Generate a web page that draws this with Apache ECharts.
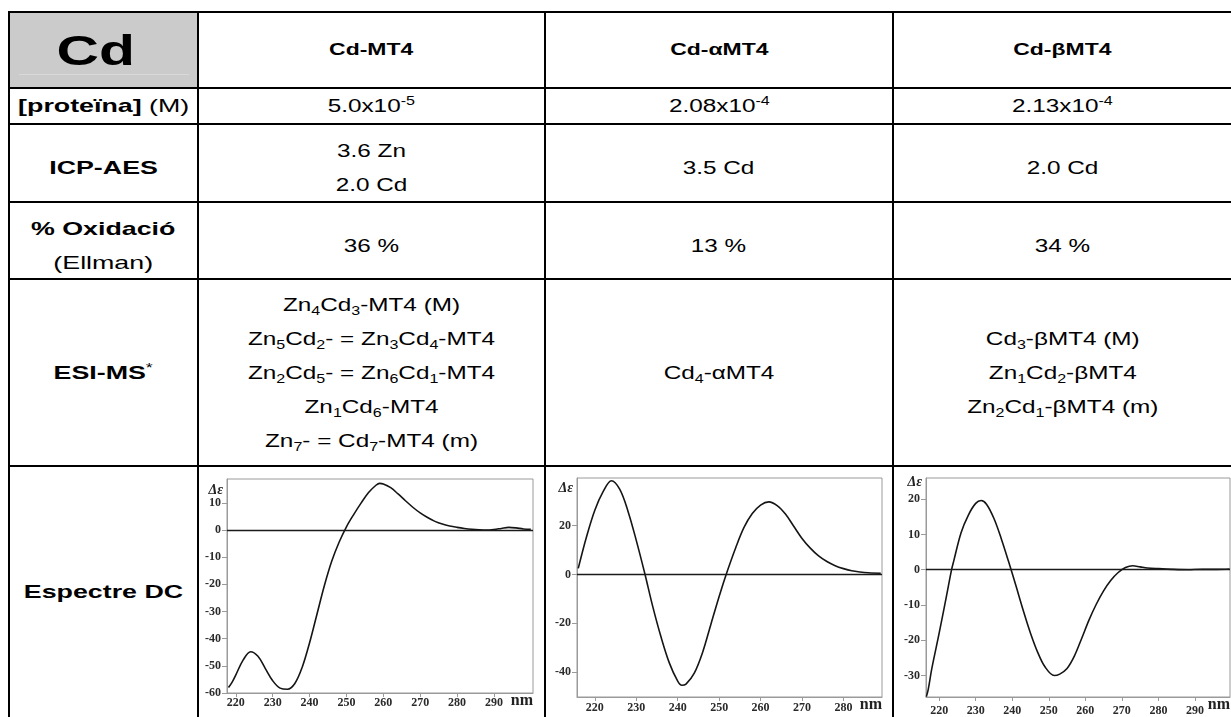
<!DOCTYPE html>
<html><head><meta charset="utf-8">
<script src="https://cdn.jsdelivr.net/npm/echarts@6/dist/echarts.min.js"></script>
<style>
html,body{margin:0;padding:0;background:#fff;width:1231px;height:717px;overflow:hidden;}
#sheet{position:absolute;left:0;top:0;width:1231px;height:717px;font-family:"Liberation Sans",Arial,sans-serif;color:#000;}
.cell{position:absolute;display:flex;align-items:center;justify-content:center;text-align:center;box-sizing:border-box;}
.txt{display:inline-block;transform-origin:50% 50%;white-space:nowrap;line-height:34px;}
.hl{position:absolute;background:#000;height:2px;}
.vl{position:absolute;background:#000;width:2px;}
sub{font-size:66%;vertical-align:-0.3em;line-height:0;}
sup{font-size:66%;vertical-align:0.55em;line-height:0;}
#chart{position:absolute;left:0;top:0;width:1231px;height:717px;}
</style></head>
<body>
<div id="sheet"></div>
<div id="chart"></div>
<script>
// ---- table content ----
const cornerLabel = 'Cd';
const proteinNames = ['Cd-MT4', 'Cd-αMT4', 'Cd-βMT4'];
const rowLabels = [
  '<b>[proteïna]</b> (M)',
  '<b>ICP-AES</b>',
  '<b>% Oxidació</b><br>(Ellman)',
  '<b>ESI-MS</b><sup>*</sup>',
  '<b>Espectre DC</b>'
];
const concentrations = ['5.0x10<sup>-5</sup>', '2.08x10<sup>-4</sup>', '2.13x10<sup>-4</sup>'];
const icpAes = ['3.6 Zn<br>2.0 Cd', '3.5 Cd', '2.0 Cd'];
const oxidation = ['36 %', '13 %', '34 %'];
const esiMs = [
  'Zn<sub>4</sub>Cd<sub>3</sub>-MT4 (M)<br>Zn<sub>5</sub>Cd<sub>2</sub>- = Zn<sub>3</sub>Cd<sub>4</sub>-MT4<br>Zn<sub>2</sub>Cd<sub>5</sub>- = Zn<sub>6</sub>Cd<sub>1</sub>-MT4<br>Zn<sub>1</sub>Cd<sub>6</sub>-MT4<br>Zn<sub>7</sub>- = Cd<sub>7</sub>-MT4 (m)',
  'Cd<sub>4</sub>-αMT4',
  'Cd<sub>3</sub>-βMT4 (M)<br>Zn<sub>1</sub>Cd<sub>2</sub>-βMT4<br>Zn<sub>2</sub>Cd<sub>1</sub>-βMT4 (m)'
];

// ---- CD spectra (wavelength nm, Δε) ----
const wlMT4 = [218,219,220,222,224,226,228,230,232,234,236,238,240,242,244,246,248,250,252,254,256,258,259,260,262,264,266,268,270,272,274,276,278,280,282,284,286,288,290,292,294,296,298,300];
const deMT4 = [-58,-56,-53.3,-47.8,-44.8,-46.5,-51,-55.5,-58.2,-58.6,-56.5,-50.5,-41.5,-31,-20.5,-11.5,-4.5,1.2,5.8,10,13.8,16.5,17.2,17,15.6,13.3,10.8,8.4,6.3,4.6,3.2,2.2,1.5,1,0.6,0.3,0.1,0,0.2,0.6,1,0.8,0.4,0.3];

const wlAlpha = [216,218,220,222,224,226,228,230,232,234,236,238,240,241,242,244,246,248,250,252,254,256,258,260,262,264,266,268,270,272,274,276,278,280,282,284,286,289];
const deAlpha = [2.5,15.5,26.4,34,38.5,35,26,14,0.8,-13.3,-25.8,-36.4,-43.8,-45.5,-45,-40.5,-32,-20.5,-9,1.5,11,19.3,25,28.5,29.8,28.3,24.8,19.8,14.8,10.8,7.6,5.3,3.6,2.4,1.5,1,0.7,0.5];

const wlBeta = [216.5,217,218,220,222,223.4,224,226,228,230,231.5,233,235,237,239,241,243,245,247,249,251.5,253,255,257,259,261,263,265,267,269,271,273,275,277,280,284,288,292,296,299.5];
const deBeta = [-36,-34,-28,-18,-7.5,0,2.5,10.5,15.5,18.8,19.6,18.5,14.5,8.8,2.3,-4.5,-11.5,-18,-23.5,-27.6,-30,-29.6,-28,-24.5,-19.5,-14.3,-9.8,-6,-3,-0.8,0.6,1.1,0.8,0.5,0.3,0.1,0,0.1,0.1,0.2];

const xTicks9 = [220,230,240,250,260,270,280,290];
const xTicks8 = [220,230,240,250,260,270,280];
const yTicksMT4 = [-60,-50,-40,-30,-20,-10,0,10];
const yTicksAlpha = [-40,-20,0,20];
const yTicksBeta = [-30,-20,-10,0,10,20];

// ---- table layout ----
const colX = [9, 198, 545, 893, 1232];
const rowY = [12, 88, 124, 202, 279, 466, 717];
const sheet = document.getElementById('sheet');

function add(cls, css, html) {
  const d = document.createElement('div');
  d.className = cls;
  Object.assign(d.style, css);
  if (html !== undefined) d.innerHTML = html;
  sheet.appendChild(d);
  return d;
}
function cell(c, r, html, fontSize, bold, stretch, padTop, shiftX) {
  const d = add('cell', {
    left: colX[c] + 'px', top: rowY[r] + 'px',
    width: (colX[c + 1] - colX[c]) + 'px', height: (rowY[r + 1] - rowY[r]) + 'px',
    paddingTop: (padTop || 0) + 'px'
  });
  const s = document.createElement('span');
  s.className = 'txt';
  s.style.fontSize = fontSize + 'px';
  s.style.transform = 'translateX(' + (shiftX || 0) + 'px) scaleX(' + stretch + ')';
  if (bold) s.style.fontWeight = 'bold';
  s.innerHTML = html;
  d.appendChild(s);
}

// grey corner cell
add('', {position: 'absolute', left: (colX[0] + 1) + 'px', top: (rowY[0] + 1) + 'px',
  width: (colX[1] - colX[0] - 2) + 'px', height: (rowY[1] - rowY[0] - 2) + 'px', background: '#cbcbcb'});
add('', {position: 'absolute', left: '19px', top: '74px', width: '170px', height: '1px', background: '#d9d9d9'});

cell(0, 0, cornerLabel, 43, true, 1.37, 0, -8);
proteinNames.forEach((t, i) => cell(i + 1, 0, t, 17, true, 1.35));
rowLabels.forEach((t, i) => cell(0, i + 1, t, 19, false, 1.41, (i === 1 || i === 2) ? 10 : 0));
concentrations.forEach((t, i) => cell(i + 1, 1, t, 18, false, 1.35));
icpAes.forEach((t, i) => cell(i + 1, 2, t, 18, false, 1.35, 10));
oxidation.forEach((t, i) => cell(i + 1, 3, t, 18, false, 1.35, 10));
esiMs.forEach((t, i) => cell(i + 1, 4, t, 18, false, 1.35));

// grid lines
for (let r = 0; r < rowY.length - 1; r++) {
  add('hl', {left: (colX[0] - 1) + 'px', top: (rowY[r] - 1) + 'px', width: (colX[colX.length - 1] - colX[0] + 2) + 'px'});
}
colX.forEach(x => add('vl', {left: (x - 1) + 'px', top: (rowY[0] - 1) + 'px', height: (740 - rowY[0]) + 'px'}));

// ---- spectra ----
const chart = echarts.init(document.getElementById('chart'), null, {renderer: 'canvas'});
const panels = [
  {wl: wlMT4, de: deMT4, xt: xTicks9, yt: yTicksMT4, x: [217.6, 300.6], y: [-60, 18.8],
   grid: {left: 227, top: 479, width: 306, height: 214}, labelGap: 4, nameGap: -4},
  {wl: wlAlpha, de: deAlpha, xt: xTicks8, yt: yTicksAlpha, x: [215.7, 289.3], y: [-50.3, 39.6],
   grid: {left: 577, top: 478, width: 305, height: 219}, labelGap: 5, nameGap: -3},
  {wl: wlBeta, de: deBeta, xt: xTicks9, yt: yTicksBeta, x: [216.4, 299.6], y: [-36.1, 26],
   grid: {left: 926, top: 478, width: 304, height: 222}, labelGap: 8, nameGap: 3}
];
const frame = '#9a9a9a';
const serif = '"Liberation Serif","Times New Roman",serif';
const tickFont = {color: '#2a2a2a', fontFamily: serif, fontWeight: 'bold', fontSize: 12};

const option = {
  animation: false,
  grid: panels.map(p => Object.assign({show: true, borderColor: frame, borderWidth: 1, backgroundColor: 'transparent'}, p.grid)),
  xAxis: panels.map((p, i) => ({
    type: 'value', gridIndex: i, min: p.x[0], max: p.x[1],
    name: 'nm', nameLocation: 'end', nameGap: 0, nameMoveOverlap: false,
    nameTextStyle: {align: 'right', verticalAlign: 'top', padding: 0, fontSize: 16,
      fontFamily: serif, fontWeight: 'bold', color: '#222'},
    axisLine: {onZero: false, lineStyle: {color: frame, width: 1}},
    axisTick: {show: true, customValues: p.xt, length: 4, lineStyle: {color: frame}},
    axisLabel: Object.assign({customValues: p.xt, margin: p.labelGap}, tickFont),
    splitLine: {show: false}
  })),
  yAxis: panels.map((p, i) => ({
    type: 'value', gridIndex: i, min: p.y[0], max: p.y[1],
    name: 'Δε', nameLocation: 'end', nameGap: p.nameGap, nameMoveOverlap: false,
    nameTextStyle: {align: 'right', verticalAlign: 'top', padding: [0, 4, 0, 0], fontSize: 14,
      fontFamily: serif, fontWeight: 'bold', fontStyle: 'italic', color: '#222'},
    axisLine: {show: true, onZero: false, lineStyle: {color: frame, width: 1}},
    axisTick: {show: true, customValues: p.yt, length: 5, lineStyle: {color: frame}},
    axisLabel: Object.assign({customValues: p.yt, margin: 6}, tickFont),
    splitLine: {show: false}
  })),
  series: panels.map((p, i) => ({
    type: 'line', xAxisIndex: i, yAxisIndex: i,
    data: p.wl.map((w, k) => [w, p.de[k]]),
    showSymbol: false, smooth: 0.35, clip: true,
    lineStyle: {color: '#151515', width: 1.6},
    markLine: {
      silent: true, symbol: 'none', label: {show: false},
      lineStyle: {color: '#1a1a1a', type: 'solid', width: 1.3},
      data: [{yAxis: 0}]
    }
  }))
};
chart.setOption(option);
</script>
</body></html>
